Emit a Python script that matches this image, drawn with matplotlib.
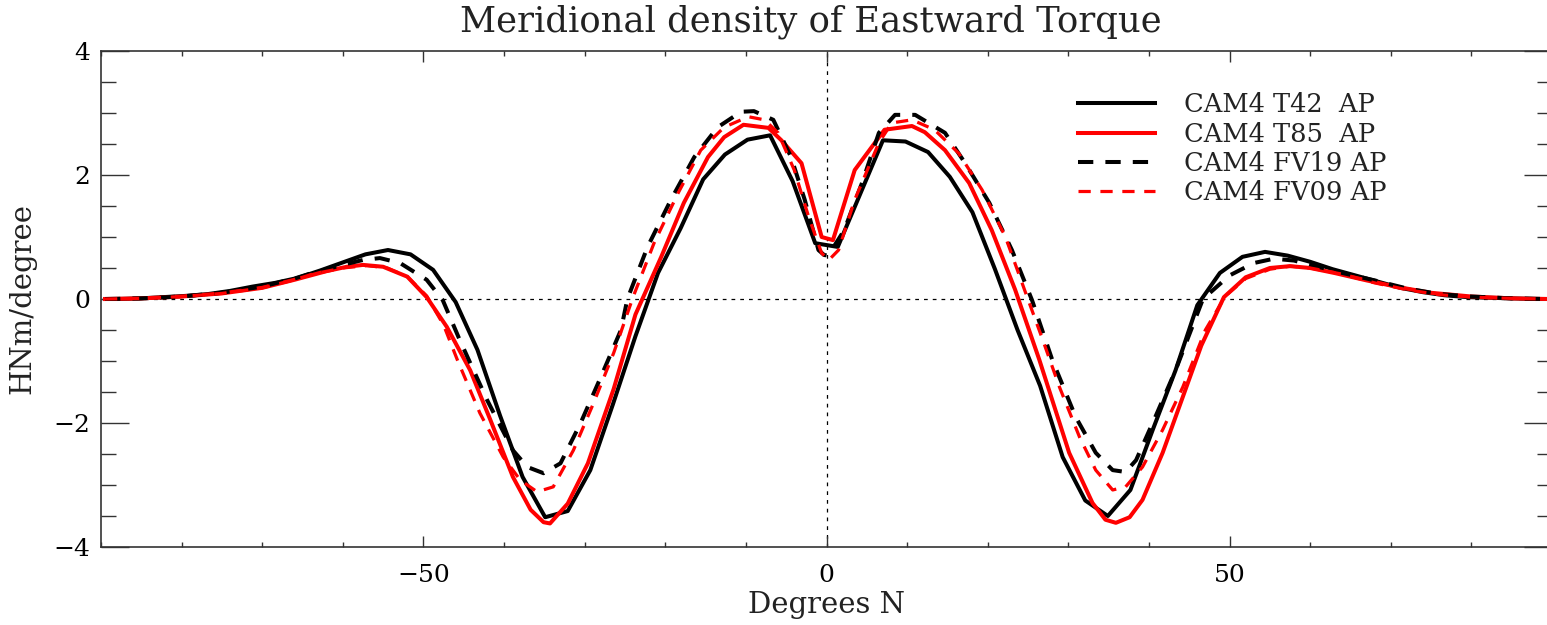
import matplotlib
matplotlib.use("Agg")
import matplotlib.pyplot as plt
from matplotlib.ticker import MultipleLocator

# ---------------- data ----------------
lat_t42 = [-89.5, -87.9, -85.1, -82.3, -79.5, -76.7, -74.0, -71.2, -68.4, -65.6, -62.8,
           -60.0, -57.2, -54.4, -51.6, -48.8, -46.0, -43.3, -40.5, -37.7, -34.9,
           -32.1, -29.3, -26.5, -23.7, -20.9, -18.1, -15.3, -12.6, -9.8, -7.0,
           -4.2, -1.4, 1.4, 4.2, 7.0, 9.8, 12.6, 15.3, 18.1, 20.9, 23.7, 26.5,
           29.3, 32.1, 34.9, 37.7, 40.5, 43.3, 46.0, 48.8, 51.6, 54.4, 57.2,
           60.0, 62.8, 65.6, 68.4, 71.2, 74.0, 76.7, 79.5, 82.3, 85.1, 87.9, 89.5]
t42 = [0.0, 0.0, 0.01, 0.03, 0.05, 0.08, 0.13, 0.20, 0.26, 0.34, 0.46,
       0.59, 0.72, 0.79, 0.72, 0.47, -0.05, -0.82, -1.88, -2.87, -3.52,
       -3.42, -2.76, -1.70, -0.60, 0.42, 1.14, 1.93, 2.33, 2.57, 2.64,
       1.90, 0.90, 0.84, 1.70, 2.56, 2.54, 2.37, 1.97, 1.40, 0.48, -0.50, -1.40,
       -2.55, -3.25, -3.50, -3.08, -2.10, -1.15, -0.10, 0.42, 0.68, 0.76, 0.70,
       0.60, 0.48, 0.38, 0.28, 0.18, 0.11, 0.06, 0.03, 0.02, 0.01, 0.0, 0.0]

lat_t85 = [-89.5, -85, -80, -75, -70, -66, -62, -59.5, -57.5, -55, -52, -49.6, -47.1,
           -44.2, -41.7, -38.9, -36.7, -35.1, -34.3, -32.1, -29.6, -26.4, -23.7,
           -20.5, -17.7, -14.7, -12.7, -10.3, -7.2, -5.6, -3.1, -0.6, 0.8, 3.5,
           7.2, 10.6, 12.2, 14.7, 17.7, 20.5, 23.4, 26.4, 30.1, 33.0, 34.6, 35.9,
           37.6, 39.2, 41.7, 44.2, 46.5, 49.3, 52, 55, 57.5, 60, 63, 67, 71, 75,
           80, 85, 89.5]
t85 = [0.0, 0.01, 0.04, 0.09, 0.18, 0.31, 0.45, 0.52, 0.55, 0.52, 0.36, 0.03, -0.45,
       -1.15, -1.95, -2.87, -3.40, -3.60, -3.62, -3.30, -2.65, -1.45, -0.25,
       0.68, 1.55, 2.29, 2.61, 2.81, 2.76, 2.56, 2.19, 1.00, 0.95, 2.08,
       2.73, 2.79, 2.69, 2.40, 1.87, 1.11, 0.15, -0.98, -2.48, -3.29, -3.56, -3.61,
       -3.52, -3.24, -2.48, -1.58, -0.75, 0.03, 0.35, 0.50, 0.53, 0.50, 0.42, 0.30,
       0.19, 0.10, 0.04, 0.01, 0.0]

lat_fv19 = [-89.5, -85, -80, -75, -70, -66, -63.8, -60, -57.5, -55.4, -52.9, -49.6,
            -47.6, -45.5, -42.1, -38.9, -37.1, -35.1, -33.0, -30.5, -28.0, -25.5,
            -24.7, -22.2, -19.3, -16.4, -13.5, -10.6, -9.0, -6.6, -4.4, -2.7,
            -1.0, -0.3, 0.2, 2.2, 4.4, 6.5, 8.5, 11.0, 14.7, 17.2, 20.2, 23.0,
            25.5, 28.0, 30.9, 33.4, 35.5, 37.1, 38.4, 40.8, 43.3, 46.7, 50, 53,
            55.5, 58, 61, 64, 68, 72, 76, 80, 85, 89.5]
fv19 = [0.0, 0.01, 0.04, 0.10, 0.20, 0.33, 0.42, 0.55, 0.63, 0.66, 0.58, 0.31,
        -0.02, -0.66, -1.63, -2.44, -2.71, -2.81, -2.65, -2.00, -1.26, -0.50,
        0.0, 0.84, 1.60, 2.29, 2.77, 3.02, 3.03, 2.89, 2.29, 1.60,
        0.79, 0.71, 0.70, 1.11, 1.87, 2.68, 2.97, 2.97, 2.68, 2.19, 1.55, 0.79,
        -0.02, -0.98, -1.90, -2.48, -2.76, -2.79, -2.60, -1.90, -1.15, 0.0, 0.38, 0.58,
        0.65, 0.62, 0.52, 0.42, 0.30, 0.17, 0.08, 0.04, 0.01, 0.0]

lat_fv09 = [-89.5, -85, -80, -75, -70, -66, -63.8, -60, -57, -54.5, -52, -49.6,
            -47.5, -45.8, -43.0, -40.1, -38.0, -35.9, -33.9, -31.4, -28.9, -26.4,
            -24.0, -21.4, -18.4, -15.6, -12.7, -9.7, -7.7, -6.0, -4.0, -2.2,
            -0.6, 0.3, 1.5, 3.5, 6.5, 8.1, 10.6, 13.4, 16.4, 19.3, 22.2, 24.7,
            26.8, 28.9, 31.4, 33.4, 35.5, 37.1, 39.2, 41.7, 44.2, 47.0, 49.5, 52,
            55, 57.5, 60, 64, 68, 72, 76, 80, 85, 89.5]
fv09 = [0.0, 0.01, 0.04, 0.09, 0.18, 0.31, 0.40, 0.50, 0.54, 0.50, 0.36, 0.05,
        -0.42, -0.98, -1.84, -2.55, -2.92, -3.11, -3.03, -2.44, -1.68, -0.87,
        0.03, 0.90, 1.71, 2.40, 2.77, 2.94, 2.89, 2.68, 2.08, 1.32,
        0.74, 0.63, 0.79, 1.60, 2.52, 2.84, 2.89, 2.73, 2.35, 1.76, 1.00, 0.10,
        -0.65, -1.42, -2.23, -2.76, -3.08, -3.03, -2.71, -2.11, -1.42, -0.50, 0.05, 0.33,
        0.48, 0.53, 0.50, 0.40, 0.26, 0.15, 0.07, 0.03, 0.01, 0.0]

labels = ["CAM4 T42  AP", "CAM4 T85  AP", "CAM4 FV19 AP", "CAM4 FV09 AP"]
title = "Meridional density of Eastward Torque"
xlabel = "Degrees N"
ylabel = "HNm/degree"

# ---------------- figure ----------------
plt.rcParams['font.family'] = ['DejaVu Serif']
plt.rcParams['axes.unicode_minus'] = True

W, H = 1547, 625
fig = plt.figure(figsize=(W / 100, H / 100), dpi=100)
ax = fig.add_axes([101 / W, 1 - 547 / H, (1552 - 101) / W, (547 - 51) / H])

lw = 2.9
dash = (3.8, 3.0)
ax.plot(lat_t42, t42, color='black', lw=lw, label=labels[0], zorder=3)
ax.plot(lat_t85, t85, color='red', lw=lw, label=labels[1], zorder=3)
ax.plot(lat_fv19, fv19, color='black', lw=lw, dashes=dash, label=labels[2], zorder=3)
ax.plot(lat_fv09, fv09, color='red', lw=lw * 0.8, dashes=dash, label=labels[3], zorder=3)

ax.axhline(0, color='black', lw=0.9, ls=(0, (3, 4)), zorder=1)
ax.axvline(0, color='black', lw=0.9, ls=(0, (3, 4)), zorder=1)

ax.set_xlim(-90, 90)
ax.set_ylim(-4, 4)
ax.xaxis.set_major_locator(MultipleLocator(50))
ax.xaxis.set_minor_locator(MultipleLocator(10))
ax.yaxis.set_major_locator(MultipleLocator(2))
ax.yaxis.set_minor_locator(MultipleLocator(0.5))

tc = '#333333'
ax.tick_params(axis='x', which='major', direction='in', length=8, width=1.0,
               top=True, bottom=True, color=tc, labelsize=18, pad=12)
ax.tick_params(axis='x', which='minor', direction='in', length=3.8, width=1.0,
               top=True, bottom=True, color=tc)
ax.tick_params(axis='y', which='major', direction='in', length=20, width=1.0,
               left=True, right=True, color=tc, labelsize=18, pad=8)
ax.tick_params(axis='y', which='minor', direction='in', length=10.5, width=1.0,
               left=True, right=True, color=tc)
for s in ax.spines.values():
    s.set_color(tc)
    s.set_linewidth(1.2)

fig.text(811 / W, 1 - 22 / H, title, ha='center', va='center', fontsize=25.5, color='#222222')
fig.text(826 / W, 1 - 605 / H, xlabel, ha='center', va='center', fontsize=21, color='#222222')
fig.text(22 / W, 1 - 298 / H, ylabel, ha='center', va='center', fontsize=21, rotation=90,
         color='#222222')

leg = ax.legend(loc='upper left',
                bbox_to_anchor=((1068 - 101) / (1552 - 101), 1 - (82 - 51) / (547 - 51)),
                frameon=False, fontsize=18.5, handlelength=3.0, handletextpad=1.1,
                labelspacing=0.17, borderaxespad=0)
for t in leg.get_texts():
    t.set_color('#222222')

fig.savefig("out.png", dpi=100)
